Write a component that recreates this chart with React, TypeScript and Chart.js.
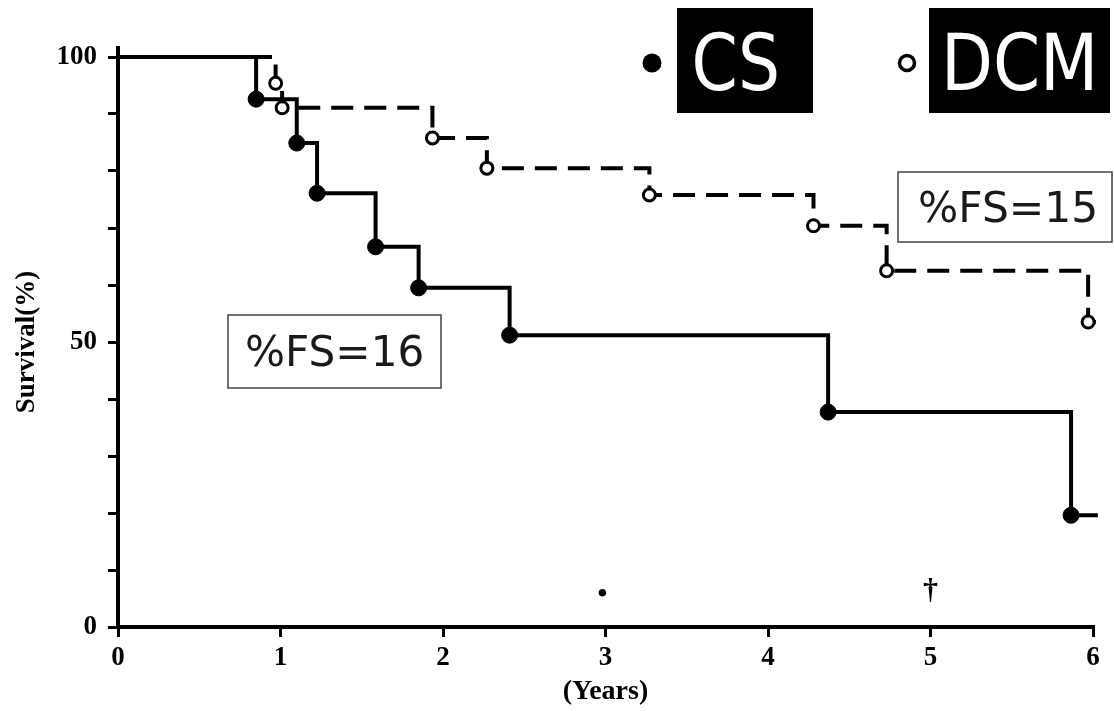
import { useEffect, useRef } from "react";
import { Chart, registerables } from "chart.js";

Chart.register(...registerables);

// Kaplan–Meier data (years, survival %)
const csYears = [0, 0.85, 1.1, 1.225, 1.585, 1.85, 2.41, 4.37, 5.865, 6.03];
const csSurvival = [100, 92.6, 84.9, 76.1, 66.7, 59.5, 51.2, 37.7, 19.6, 19.6];
const dcmYears = [0, 0.97, 1.01, 1.935, 2.27, 3.27, 4.28, 4.73, 5.97, 6.07];
const dcmSurvival = [100, 95.4, 91.1, 85.8, 80.5, 75.8, 70.4, 62.5, 53.5, 53.5];

const xTickValues = [0, 1, 2, 3, 4, 5, 6];
const yLabelValues = [0, 50, 100];
const seriesNames = ["CS", "DCM"];
const fsLabels = ["%FS=16", "%FS=15"];
const axisMarks = ["•", "†"];
const axisMarkYears = [3, 5];

const SERIF = '"Liberation Serif", "Times New Roman", serif';
const SANS = '"DejaVu Sans", Verdana, sans-serif';

function fitText(
  ctx: CanvasRenderingContext2D,
  text: string,
  left: number,
  baseline: number,
  size: number,
  width: number,
  color: string
) {
  ctx.save();
  ctx.font = `${size}px ${SANS}`;
  ctx.textAlign = "left";
  ctx.textBaseline = "alphabetic";
  const m = ctx.measureText(text);
  const inkW = m.actualBoundingBoxLeft + m.actualBoundingBoxRight;
  const s = width / inkW;
  ctx.translate(left, baseline);
  ctx.scale(s, 1);
  ctx.fillStyle = color;
  ctx.fillText(text, m.actualBoundingBoxLeft, 0);
  ctx.restore();
}

const overlayPlugin = {
  id: "overlay",
  afterDraw(chart: any) {
    const ctx: CanvasRenderingContext2D = chart.ctx;
    const xs = chart.scales.x;
    const ys = chart.scales.y;
    ctx.save();

    // y axis line extends slightly above 100
    ctx.strokeStyle = "#000";
    ctx.lineWidth = 4;
    ctx.beginPath();
    ctx.moveTo(xs.left, ys.top + 2);
    ctx.lineTo(xs.left, ys.top - 11);
    ctx.stroke();

    // Legend: CS
    ctx.fillStyle = "#000";
    ctx.beginPath();
    ctx.arc(652, 63, 9.5, 0, Math.PI * 2);
    ctx.fill();
    ctx.fillRect(677, 8, 136, 105);
    fitText(ctx, seriesNames[0], 695, 90, 78, 82, "#fff");

    // Legend: DCM
    ctx.beginPath();
    ctx.arc(907, 63, 7.5, 0, Math.PI * 2);
    ctx.fillStyle = "#fff";
    ctx.fill();
    ctx.lineWidth = 3.5;
    ctx.strokeStyle = "#000";
    ctx.stroke();
    ctx.fillStyle = "#000";
    ctx.fillRect(929, 8, 181, 105);
    fitText(ctx, seriesNames[1], 947, 90, 78, 145, "#fff");

    // %FS boxes
    ctx.lineWidth = 1.5;
    ctx.strokeStyle = "#444";
    ctx.fillStyle = "#fff";
    ctx.fillRect(228, 315, 213, 73);
    ctx.strokeRect(228, 315, 213, 73);
    fitText(ctx, fsLabels[0], 247, 366, 43, 175, "#1a1a1a");
    ctx.fillStyle = "#fff";
    ctx.fillRect(898, 172, 214, 70);
    ctx.strokeRect(898, 172, 214, 70);
    fitText(ctx, fsLabels[1], 920, 222, 43, 175, "#1a1a1a");

    // Marks above x axis
    ctx.fillStyle = "#000";
    ctx.font = `bold 28px ${SERIF}`;
    ctx.textAlign = "center";
    ctx.textBaseline = "middle";
    ctx.fillText(axisMarks[0], xs.getPixelForValue(axisMarkYears[0]) - 3, ys.getPixelForValue(5.6));
    ctx.font = `bold 30px ${SERIF}`;
    ctx.fillText(axisMarks[1], xs.getPixelForValue(axisMarkYears[1]), ys.getPixelForValue(6.3));

    ctx.restore();
  },
};

export default function App() {
  const canvasRef = useRef<HTMLCanvasElement | null>(null);

  useEffect(() => {
    if (!canvasRef.current) return;
    const csData = csYears.map((x, i) => ({ x, y: csSurvival[i] }));
    const dcmData = dcmYears.map((x, i) => ({ x, y: dcmSurvival[i] }));
    const lastCs = csData.length - 1;
    const lastDcm = dcmData.length - 1;

    const chart = new Chart(canvasRef.current, {
      type: "line",
      data: {
        datasets: [
          {
            label: seriesNames[0],
            data: csData,
            stepped: "before",
            borderColor: "#000",
            borderWidth: 4,
            backgroundColor: "#000",
            fill: false,
            pointRadius: (c: any) => (c.dataIndex === 0 || c.dataIndex === lastCs ? 0 : 8),
            pointBackgroundColor: "#000",
            pointBorderColor: "#000",
            pointBorderWidth: 1,
            clip: false as any,
            order: 2,
          },
          {
            label: seriesNames[1],
            data: dcmData,
            stepped: "before",
            borderColor: "#000",
            borderWidth: 4,
            borderDash: [22, 11],
            backgroundColor: "#fff",
            fill: false,
            pointRadius: (c: any) => (c.dataIndex === 0 || c.dataIndex === lastDcm ? 0 : 6),
            pointBackgroundColor: "#fff",
            pointBorderColor: "#000",
            pointBorderWidth: 3,
            clip: false as any,
            order: 1,
          },
        ],
      },
      options: {
        responsive: false,
        animation: false,
        devicePixelRatio: 1,
        layout: { padding: { left: 0, right: 21, top: 57, bottom: 0 } },
        plugins: {
          legend: { display: false },
          tooltip: { enabled: false },
        },
        scales: {
          x: {
            type: "linear",
            min: 0,
            max: 6,
            afterFit: (s: any) => {
              s.height = 84;
            },
            afterBuildTicks: (s: any) => {
              s.ticks = xTickValues.map((v) => ({ value: v }));
            },
            ticks: {
              color: "#000",
              padding: 5,
              font: { family: SERIF, size: 27, weight: "bold" },
              callback: (v: any) => String(v),
            },
            grid: {
              display: true,
              drawOnChartArea: false,
              drawTicks: true,
              tickLength: 10,
              lineWidth: 3,
              color: "#000",
            },
            border: { display: true, width: 4, color: "#000" },
            title: {
              display: true,
              text: "(Years)",
              color: "#000",
              font: { family: SERIF, size: 28, weight: "bold" },
              padding: { top: 0, bottom: 2 },
            },
          },
          y: {
            type: "linear",
            min: 0,
            max: 100,
            afterFit: (s: any) => {
              s.width = 118;
            },
            ticks: {
              stepSize: 10,
              autoSkip: false,
              color: "#000",
              padding: 11,
              font: { family: SERIF, size: 27, weight: "bold" },
              callback: (v: any) => (yLabelValues.includes(Number(v)) ? String(v) : ""),
            },
            grid: {
              display: true,
              drawOnChartArea: false,
              drawTicks: true,
              tickLength: 10,
              lineWidth: 3,
              color: "#000",
            },
            border: { display: true, width: 4, color: "#000" },
            title: {
              display: true,
              text: "Survival(%)",
              color: "#000",
              font: { family: SERIF, size: 27, weight: "bold" },
              padding: { top: 11, bottom: 0 },
            },
          },
        },
      },
      plugins: [overlayPlugin],
    });
    return () => chart.destroy();
  }, []);

  return (
    <div style={{ position: "absolute", left: 0, top: 0, width: 1114, height: 711, background: "#fff" }}>
      <canvas ref={canvasRef} width={1114} height={711} />
    </div>
  );
}
